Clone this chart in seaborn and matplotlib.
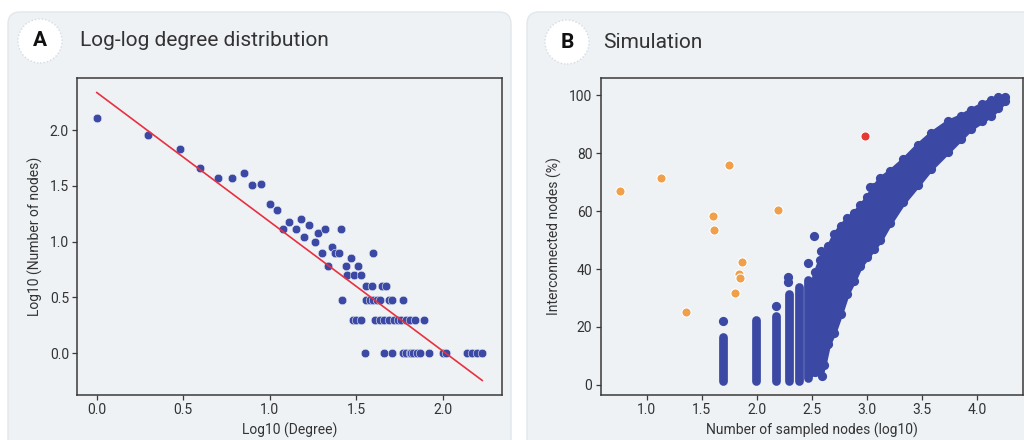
import numpy as np
import matplotlib
matplotlib.use("Agg")
import matplotlib.pyplot as plt
from matplotlib.patches import FancyBboxPatch, Ellipse
from matplotlib.transforms import IdentityTransform
import seaborn as sns

# ---------------- Panel A data : log-log degree distribution ----------------
log_degree = [0.00, 0.30, 0.48, 0.60, 0.70, 0.78, 0.85, 0.90, 0.95, 1.00,
              1.04, 1.08, 1.11, 1.15, 1.18, 1.20, 1.23, 1.26, 1.28, 1.30,
              1.32, 1.34, 1.36, 1.38, 1.40, 1.41, 1.42, 1.44, 1.45, 1.47,
              1.49, 1.51, 1.53, 1.48, 1.50, 1.53, 1.56, 1.59, 1.60, 1.65,
              1.67,
              1.56, 1.58, 1.60, 1.62, 1.64, 1.69, 1.71, 1.77,
              1.61, 1.64, 1.66, 1.69, 1.72, 1.74, 1.76, 1.79, 1.81, 1.84, 1.89,
              1.55, 1.66, 1.71, 1.77, 1.79, 1.81, 1.82, 1.83, 1.85, 1.87,
              1.92, 2.00, 2.02, 2.14, 2.17, 2.20, 2.23]
log_nodes = [2.11, 1.96, 1.83, 1.66, 1.57, 1.57, 1.62, 1.51, 1.52, 1.34,
             1.28, 1.11, 1.18, 1.11, 1.20, 1.04, 1.15, 1.00, 1.08, 0.90,
             1.11, 0.78, 0.95, 0.90, 0.90, 1.11, 0.48, 0.78, 0.70, 0.85,
             0.70, 0.78, 0.70, 0.30, 0.30, 0.30, 0.60, 0.60, 0.90, 0.60,
             0.60,
             0.48, 0.48, 0.48, 0.48, 0.48, 0.48, 0.48, 0.48,
             0.30, 0.30, 0.30, 0.30, 0.30, 0.30, 0.30, 0.30, 0.30, 0.30, 0.30,
             0.00, 0.00, 0.00, 0.00, 0.00, 0.00, 0.00, 0.00, 0.00, 0.00,
             0.00, 0.00, 0.00, 0.00, 0.00, 0.00, 0.00]
fit_intercept = 2.34
fit_slope = -1.16

# ---------------- Panel B data : simulation ----------------
orange_x = [0.76, 1.13, 1.36, 1.60, 1.61, 1.75, 1.80, 1.84, 1.85, 1.87, 2.19]
orange_y = [66.8, 71.5, 25.0, 58.5, 53.6, 76.0, 31.7, 38.2, 37.0, 42.4, 60.4]
red_x = [2.98]
red_y = [86.1]

# vertical runs of blue points at small sample sizes
stripe_x = [1.69, 1.99, 2.17, 2.29, 2.38, 2.46]
stripe_low = [1.5, 1.5, 1.2, 1.2, 1.2, 2.5]
stripe_high = [16.5, 22.5, 23.8, 31.5, 33.8, 36.3]

# isolated blue points
blue_x = [1.69, 2.17, 2.28, 2.28, 2.46, 2.52, 2.585, 2.59, 3.03]
blue_y = [22.1, 27.3, 35.7, 37.2, 42.0, 51.4, 46.4, 2.9, 68.5]

# envelope (marker centres) of the dense blue cloud
cloud_x = [2.49, 2.53, 2.57, 2.61, 2.65, 2.70, 2.76, 2.82, 2.88, 2.94,
           3.00, 3.06, 3.12, 3.21, 3.33, 3.46, 3.58, 3.73, 3.85, 3.94,
           4.04, 4.12, 4.19, 4.25]
cloud_upper = [34, 39, 43, 45.5, 48, 52, 55, 57.5, 59.5, 62,
               65, 68.5, 71.5, 74, 78, 83, 87, 91, 93, 95,
               97, 98.5, 99.5, 99.3]
cloud_lower = [4.5, 4.5, 5, 7, 14, 18, 24.5, 31.5, 36, 41,
               44, 47, 50, 56, 63, 69, 74.7, 80.4, 85, 88.5,
               91, 93, 95.5, 98]

# ---------------- styling ----------------
sns.set_theme(style="ticks")
plt.rcParams["font.family"] = ["Roboto", "DejaVu Sans"]

W, H = 1024, 440
BG = "#eef2f5"
BLUE = "#3b49a5"
ORANGE = "#f0a04b"
RED = "#e53935"
LINE_RED = "#e8303f"
SPINE = "#3a3a3a"
TXT = "#333333"

fig = plt.figure(figsize=(W / 100, H / 100), dpi=100)
fig.patch.set_facecolor("white")

# cards
for x0, w in [(8, 503), (527, 520)]:
    card = FancyBboxPatch((x0, -20), w, 440 - 12 + 20,
                          boxstyle="round,pad=0,rounding_size=12",
                          transform=IdentityTransform(),
                          facecolor=BG, edgecolor="#e2e7ec", linewidth=1,
                          zorder=-10)
    fig.patches.append(card)

# badges and titles
for cx, cy, letter, tx, title in [(40, 399, "A", 80, "Log-log degree distribution"),
                                   (567, 398, "B", 603, "Simulation")]:
    circ = Ellipse((cx, cy), 44, 44, transform=IdentityTransform(),
                   facecolor="white", edgecolor="#d5dce4", linewidth=1.0,
                   linestyle=(0, (1, 1.5)), zorder=-5)
    fig.patches.append(circ)
    fig.text(cx / W, cy / H, letter, ha="center", va="center",
             fontsize=15, fontweight="bold", color="#111111")
    fig.text(tx / W, cy / H, title, ha="left", va="center",
             fontsize=15, color=TXT)

# axes
axA = fig.add_axes([77.3 / W, 45 / H, 424.4 / W, 317 / H])
axB = fig.add_axes([600.7 / W, 45 / H, 421.8 / W, 317 / H])

for ax in (axA, axB):
    ax.set_facecolor(BG)
    for s in ax.spines.values():
        s.set_color(SPINE)
        s.set_linewidth(1.1)
    ax.tick_params(axis="both", length=3.5, width=0.9, color=SPINE,
                   labelsize=10, labelcolor=TXT, pad=2.5)

# ---- Panel A ----
sns.scatterplot(x=log_degree, y=log_nodes, ax=axA, color=BLUE, s=38,
                edgecolor="#e6ebf3", linewidth=0.4, zorder=3)
fit_x = np.array([min(log_degree), max(log_degree)])
sns.lineplot(x=fit_x, y=fit_intercept + fit_slope * fit_x, ax=axA,
             color=LINE_RED, linewidth=1.2, zorder=4)
axA.set_xticks([0.0, 0.5, 1.0, 1.5, 2.0])
axA.set_yticks([0.0, 0.5, 1.0, 1.5, 2.0])
axA.xaxis.set_major_formatter(matplotlib.ticker.FormatStrFormatter("%.1f"))
axA.yaxis.set_major_formatter(matplotlib.ticker.FormatStrFormatter("%.1f"))
axA.set_xlabel("Log10 (Degree)", fontsize=10, color=TXT, labelpad=4)
axA.set_ylabel("Log10 (Number of nodes)", fontsize=10, color=TXT, labelpad=5)

# ---- Panel B ----
axB.fill_between(cloud_x, cloud_lower, cloud_upper, facecolor=BLUE,
                 edgecolor=BLUE, linewidth=3, joinstyle="round",
                 capstyle="round", zorder=2)
sns.scatterplot(x=cloud_x + cloud_x, y=cloud_upper + cloud_lower, ax=axB,
                color=BLUE, s=44, edgecolor=BLUE, linewidth=0, zorder=2)
vl = axB.vlines(stripe_x, stripe_low, stripe_high, colors=BLUE, linewidth=6.3, zorder=2)
vl.set_capstyle("round")
sns.scatterplot(x=blue_x, y=blue_y, ax=axB, color=BLUE, s=44,
                edgecolor=BLUE, linewidth=0, zorder=3)
sns.scatterplot(x=orange_x, y=orange_y, ax=axB, color=ORANGE, s=44,
                edgecolor="white", linewidth=0.8, zorder=4)
sns.scatterplot(x=red_x, y=red_y, ax=axB, color=RED, s=44,
                edgecolor="white", linewidth=0.8, zorder=4)
axB.set_xlim(0.584, 4.41)
axB.set_ylim(-3.5, 106)
axB.set_xticks([1.0, 1.5, 2.0, 2.5, 3.0, 3.5, 4.0])
axB.set_yticks([0, 20, 40, 60, 80, 100])
axB.xaxis.set_major_formatter(matplotlib.ticker.FormatStrFormatter("%.1f"))
axB.set_xlabel("Number of sampled nodes (log10)", fontsize=10, color=TXT, labelpad=4)
axB.set_ylabel("Interconnected nodes (%)", fontsize=10, color=TXT, labelpad=5)

fig.savefig("out.png", dpi=100, facecolor=fig.get_facecolor())
